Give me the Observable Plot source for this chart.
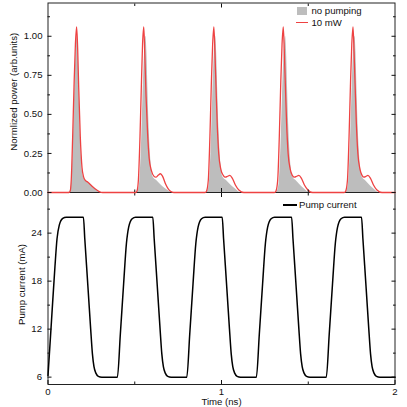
<!DOCTYPE html>
<html><head><meta charset="utf-8">
<script src="https://cdn.jsdelivr.net/npm/d3@7"></script>
<script src="https://cdn.jsdelivr.net/npm/@observablehq/plot@0.6"></script>
<style>
html,body{margin:0;padding:0;background:#fff;}
#wrap{position:relative;width:407px;height:407px;overflow:hidden;background:#fff;font-family:"Liberation Sans",Arial,sans-serif;font-size:9.6px;color:#111;}
#wrap svg{position:absolute;left:0;overflow:visible;background:none !important;}
.lg{position:absolute;white-space:nowrap;line-height:10px;}
.sw{position:absolute;}
</style></head><body><div id="wrap"></div>
<script>
// ---- data (time in ns) ----
const noPumping = [
  [0.000,0],[0.118,0],[0.128,0.01],[0.136,0.06],[0.144,0.25],[0.153,0.60],[0.161,0.88],[0.169,1.00],[0.174,0.88],[0.180,0.62],[0.186,0.40],[0.193,0.22],[0.200,0.12],[0.208,0.09],[0.230,0.065],[0.255,0.04],[0.280,0.015],[0.300,0],
  [0.508,0],[0.518,0.01],[0.528,0.06],[0.537,0.25],[0.547,0.60],[0.556,0.88],[0.564,1.00],[0.570,0.90],[0.576,0.66],[0.582,0.44],[0.590,0.25],[0.598,0.14],[0.606,0.10],[0.625,0.078],[0.650,0.05],[0.675,0.025],[0.700,0.007],[0.715,0],
  [0.910,0],[0.920,0.01],[0.930,0.06],[0.939,0.25],[0.949,0.60],[0.958,0.88],[0.966,1.00],[0.972,0.90],[0.978,0.66],[0.984,0.44],[0.992,0.25],[1.000,0.14],[1.008,0.10],[1.027,0.078],[1.052,0.05],[1.077,0.025],[1.097,0.007],[1.110,0],
  [1.312,0],[1.322,0.01],[1.332,0.06],[1.341,0.25],[1.351,0.60],[1.360,0.88],[1.369,1.00],[1.375,0.90],[1.381,0.66],[1.387,0.44],[1.395,0.25],[1.403,0.14],[1.411,0.10],[1.428,0.078],[1.452,0.05],[1.475,0.025],[1.493,0.007],[1.505,0],
  [1.712,0],[1.722,0.01],[1.732,0.06],[1.741,0.25],[1.751,0.60],[1.760,0.88],[1.769,1.00],[1.775,0.90],[1.781,0.66],[1.787,0.44],[1.795,0.25],[1.803,0.14],[1.811,0.10],[1.828,0.078],[1.852,0.05],[1.875,0.025],[1.894,0.007],[1.908,0],[2.000,0]
];
const pumping10mW = [
  [0.000,0],[0.120,0],[0.128,0.01],[0.134,0.08],[0.142,0.35],[0.150,0.68],[0.158,0.95],[0.165,1.06],[0.171,0.92],[0.177,0.67],[0.186,0.36],[0.196,0.16],[0.205,0.10],[0.215,0.078],[0.230,0.066],[0.250,0.045],[0.273,0.022],[0.295,0.006],[0.315,0],
  [0.505,0],[0.513,0.01],[0.521,0.08],[0.530,0.35],[0.538,0.68],[0.545,0.95],[0.552,1.06],[0.558,0.88],[0.565,0.62],[0.574,0.38],[0.583,0.22],[0.596,0.14],[0.610,0.105],[0.622,0.098],[0.635,0.11],[0.648,0.12],[0.660,0.105],[0.677,0.056],[0.692,0.025],[0.706,0.008],[0.725,0],
  [0.905,0],[0.914,0.01],[0.924,0.08],[0.933,0.35],[0.941,0.68],[0.949,0.95],[0.956,1.06],[0.962,0.90],[0.968,0.69],[0.975,0.45],[0.984,0.25],[0.996,0.15],[1.010,0.11],[1.023,0.098],[1.035,0.104],[1.048,0.109],[1.062,0.092],[1.080,0.048],[1.100,0.016],[1.129,0],
  [1.305,0],[1.314,0.01],[1.324,0.08],[1.333,0.35],[1.341,0.68],[1.349,0.95],[1.356,1.06],[1.362,0.90],[1.368,0.69],[1.375,0.45],[1.384,0.25],[1.396,0.15],[1.408,0.11],[1.421,0.098],[1.433,0.104],[1.446,0.109],[1.460,0.092],[1.478,0.048],[1.498,0.016],[1.525,0],
  [1.707,0],[1.716,0.01],[1.726,0.08],[1.735,0.35],[1.743,0.68],[1.751,0.95],[1.758,1.06],[1.764,0.90],[1.770,0.69],[1.777,0.45],[1.786,0.25],[1.798,0.15],[1.810,0.11],[1.822,0.098],[1.833,0.104],[1.844,0.109],[1.858,0.092],[1.876,0.048],[1.896,0.016],[1.925,0],[2.000,0]
];
const pumpCurrent = [
  [0.000,6.2],[0.020,13.0],[0.040,19.8],[0.052,23.3],[0.065,25.0],[0.085,25.85],[0.105,26.0],
  [0.204,26.0],[0.212,23.3],[0.222,20.0],[0.234,16.0],[0.246,12.0],[0.256,8.9],[0.265,7.3],[0.276,6.5],[0.290,6.1],[0.310,6.0],
  [0.400,6.0],[0.417,11.4],[0.436,17.7],[0.452,22.7],[0.465,24.75],[0.485,25.8],[0.505,26.0],
  [0.604,26.0],[0.612,23.3],[0.622,20.0],[0.634,16.0],[0.646,12.0],[0.656,8.9],[0.665,7.3],[0.676,6.5],[0.690,6.1],[0.710,6.0],
  [0.800,6.0],[0.817,11.4],[0.836,17.7],[0.852,22.7],[0.865,24.75],[0.885,25.8],[0.905,26.0],
  [1.004,26.0],[1.012,23.3],[1.022,20.0],[1.034,16.0],[1.046,12.0],[1.056,8.9],[1.065,7.3],[1.076,6.5],[1.090,6.1],[1.110,6.0],
  [1.201,6.0],[1.218,11.4],[1.237,17.7],[1.253,22.7],[1.266,24.75],[1.286,25.8],[1.306,26.0],
  [1.404,26.0],[1.412,23.3],[1.422,20.0],[1.434,16.0],[1.446,12.0],[1.456,8.9],[1.465,7.3],[1.476,6.5],[1.490,6.1],[1.510,6.0],
  [1.604,6.0],[1.621,11.4],[1.640,17.7],[1.656,22.7],[1.669,24.75],[1.689,25.8],[1.709,26.0],
  [1.807,26.0],[1.815,23.3],[1.825,20.0],[1.837,16.0],[1.849,12.0],[1.859,8.9],[1.868,7.3],[1.879,6.5],[1.893,6.1],[1.913,6.0],
  [2.000,6.0]
];
const timeTicks = [0, 1, 2];
const timeMinor = [0.5, 1.5];
const powerTicks = [0, 0.25, 0.5, 0.75, 1.0];
const powerMinor = [0.125, 0.375, 0.625, 0.875, 1.125];
const currentTicks = [6, 12, 18, 24];
const currentMinor = [9, 15, 21, 27];
const labels = {
  x: "Time (ns)",
  power: "Normlized power (arb.units)",
  current: "Pump current (mA)",
  noPump: "no pumping",
  pump: "10 mW",
  cur: "Pump current"
};
const RED = "#ee4242", GRAY = "#bdbdbd";

const chartStyle = {fontFamily: '"Liberation Sans", Arial, sans-serif', fontSize: "9.6px", background: "none", color: "#111", overflow: "visible"};
const X = d => d[0], Y = d => d[1];
const blank = () => "";
const common = {width: 407, marginLeft: 47.5, marginRight: 12.5, style: chartStyle, x: {domain: [0, 2]}};

function frameTicks(major, minor, showX) {
  return [
    Plot.axisY(major, {anchor: "right", tickSize: -4, tickFormat: blank, label: null}),
    Plot.axisY(minor, {anchor: "right", tickSize: -2.5, tickFormat: blank, label: null}),
    Plot.axisY(minor, {anchor: "left", tickSize: -2.5, tickFormat: blank, label: null}),
    Plot.axisX([1], {anchor: "top", tickSize: -4, tickFormat: blank, label: null}),
    Plot.axisX(timeMinor, {anchor: "top", tickSize: -2.5, tickFormat: blank, label: null}),
    Plot.axisX(timeMinor, {anchor: "bottom", tickSize: -2.5, tickFormat: blank, label: null}),
    showX
      ? Plot.axisX(timeTicks, {anchor: "bottom", tickSize: -4, tickPadding: 7.6, tickFormat: d => String(d), label: null})
      : Plot.axisX([1], {anchor: "bottom", tickSize: -4, tickFormat: blank, label: null})
  ];
}

const topChart = Plot.plot({
  ...common, height: 193, marginTop: 2.5, marginBottom: 1,
  y: {domain: [0, 1.213]},
  marks: [
    Plot.areaY(noPumping, {x: X, y: Y, fill: GRAY, curve: "monotone-x"}),
    Plot.frame({stroke: "#222"}),
    Plot.lineY(pumping10mW, {x: X, y: Y, stroke: RED, strokeWidth: 1.3, curve: "monotone-x"}),
    Plot.axisY(powerTicks, {anchor: "left", tickSize: -4, tickPadding: 9.5, tickFormat: d3.format(".2f"), label: null}),
    ...frameTicks(powerTicks, powerMinor, false),
    Plot.text([labels.power], {text: d => d, frameAnchor: "left", textAnchor: "middle", lineAnchor: "middle", rotate: -90, dx: -34, dy: -6})
  ]
});

const bottomChart = Plot.plot({
  ...common, height: 216, marginTop: 1, marginBottom: 23,
  y: {domain: [5.08, 29.08]},
  marks: [
    Plot.frame({stroke: "#222"}),
    Plot.lineY(pumpCurrent, {x: X, y: Y, stroke: "#000", strokeWidth: 1.5, curve: "monotone-x"}),
    Plot.axisY(currentTicks, {anchor: "left", tickSize: -4, tickPadding: 10, label: null}),
    ...frameTicks(currentTicks, currentMinor, true),
    Plot.text([labels.current], {text: d => d, frameAnchor: "left", textAnchor: "middle", lineAnchor: "middle", rotate: -90, dx: -26.5, dy: -4}),
    Plot.text([labels.x], {text: d => d, frameAnchor: "bottom", textAnchor: "middle", dy: 17.5, lineAnchor: "middle"})
  ]
});

const wrap = document.getElementById("wrap");
bottomChart.style.top = "191px";
topChart.style.top = "0px";
wrap.appendChild(bottomChart);
wrap.appendChild(topChart);

function add(cls, css, text) {
  const e = document.createElement("div");
  e.className = cls;
  Object.assign(e.style, css);
  if (text) e.textContent = text;
  wrap.appendChild(e);
}
add("sw", {left: "296.5px", top: "7.3px", width: "10.8px", height: "7.4px", background: GRAY});
add("lg", {left: "311.5px", top: "5.5px"}, labels.noPump);
add("sw", {left: "296px", top: "22px", width: "12px", height: "1.4px", background: RED});
add("lg", {left: "311.5px", top: "17.5px"}, labels.pump);
add("sw", {left: "283.3px", top: "204px", width: "13.4px", height: "1.5px", background: "#000"});
add("lg", {left: "299px", top: "199.5px"}, labels.cur);
</script></body></html>
